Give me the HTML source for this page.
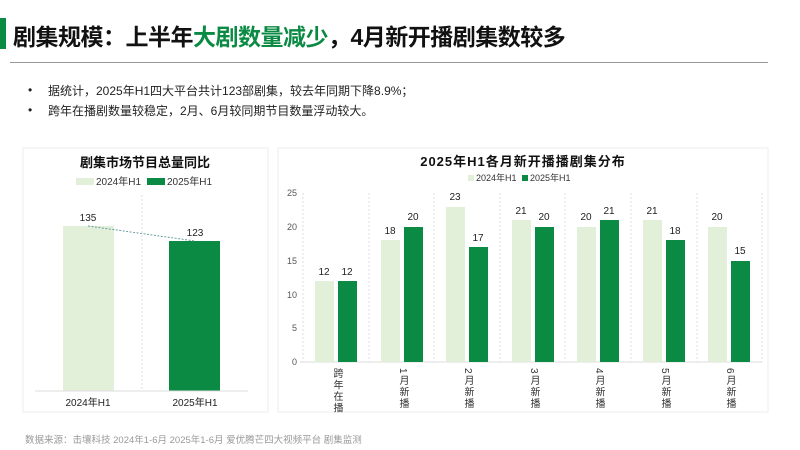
<!DOCTYPE html>
<html><head><meta charset="utf-8"><style>
body{margin:0;width:800px;height:450px;background:#fff;position:relative;overflow:hidden;font-family:"Liberation Sans","Noto Sans CJK SC",sans-serif;}
.a{position:absolute;white-space:nowrap;}
.v{position:absolute;top:368px;writing-mode:vertical-rl;font-size:10px;color:#333;line-height:12px;letter-spacing:1.5px}
</style></head><body>
<div class="a" style="left:0;top:18px;width:6px;height:31px;background:#0b8a43"></div>
<div class="a" style="left:13px;top:18px;font-size:23px;font-weight:bold;color:#111;letter-spacing:-0.5px">剧集规模：上半年<span style="color:#0b8a43">大剧数量减少</span>，4月新开播剧集数较多</div>
<div class="a" style="left:10px;top:62px;width:758px;height:1px;background:#999"></div>
<div class="a" style="left:28px;top:83px;font-size:12px;color:#222">•</div>
<div class="a" style="left:48px;top:82px;font-size:12px;color:#222">据统计，2025年H1四大平台共计123部剧集，较去年同期下降8.9%；</div>
<div class="a" style="left:28px;top:103px;font-size:12px;color:#222">•</div>
<div class="a" style="left:48px;top:102px;font-size:12px;color:#222">跨年在播剧数量较稳定，2月、6月较同期节目数量浮动较大。</div>
<div class="a" style="left:25px;top:432px;font-size:9.5px;color:#999">数据来源：击壤科技 2024年1-6月 2025年1-6月 爱优腾芒四大视频平台 剧集监测</div>
<svg class="a" style="left:0;top:0" width="800" height="450" font-family="Liberation Sans,Noto Sans CJK SC,sans-serif">
<rect x="23" y="148" width="245" height="264" fill="none" stroke="#eee"/>
<rect x="278" y="148" width="490" height="264" fill="none" stroke="#eee"/>
<text x="145" y="167" text-anchor="middle" font-size="13" font-weight="bold" fill="#111">剧集市场节目总量同比</text>
<rect x="76" y="178" width="18" height="7" fill="#e2efd9"/><text x="96" y="185" font-size="10" fill="#333">2024年H1</text>
<rect x="147" y="178" width="18" height="7" fill="#0b8a43"/><text x="167" y="185" font-size="10" fill="#333">2025年H1</text>
<line x1="142" y1="195" x2="142" y2="391" stroke="#ddd" stroke-dasharray="2,2"/>
<rect x="63" y="226" width="51" height="165" fill="#e2efd9"/>
<rect x="169" y="241" width="51" height="150" fill="#0b8a43"/>
<line x1="88" y1="226" x2="195" y2="241" stroke="#6a9ea0" stroke-dasharray="2,1.5"/>
<line x1="35" y1="391" x2="248" y2="391" stroke="#ddd"/>
<text x="88" y="221" text-anchor="middle" font-size="10" fill="#222">135</text>
<text x="195" y="236" text-anchor="middle" font-size="10" fill="#222">123</text>
<text x="88" y="406" text-anchor="middle" font-size="10" fill="#222">2024年H1</text>
<text x="195" y="406" text-anchor="middle" font-size="10" fill="#222">2025年H1</text>
<text x="523" y="166" text-anchor="middle" font-size="13" font-weight="bold" fill="#111" letter-spacing="1">2025年H1各月新开播播剧集分布</text>
<rect x="468" y="175" width="6" height="6" fill="#e2efd9"/><text x="476" y="181" font-size="9" fill="#333">2024年H1</text>
<rect x="522" y="175" width="6" height="6" fill="#0b8a43"/><text x="530" y="181" font-size="9" fill="#333">2025年H1</text>
<g font-size="9" fill="#555" text-anchor="end">
<text x="297" y="196">25</text><text x="297" y="230">20</text><text x="297" y="264">15</text><text x="297" y="298">10</text><text x="297" y="331">5</text><text x="297" y="365">0</text></g>
<g stroke="#ddd" stroke-dasharray="2,2">
<line x1="303" y1="193" x2="303" y2="362"/><line x1="369" y1="193" x2="369" y2="362"/><line x1="434" y1="193" x2="434" y2="362"/><line x1="500" y1="193" x2="500" y2="362"/><line x1="565" y1="193" x2="565" y2="362"/><line x1="631" y1="193" x2="631" y2="362"/><line x1="697" y1="193" x2="697" y2="362"/><line x1="762" y1="193" x2="762" y2="362"/></g>
<line x1="300" y1="362" x2="762" y2="362" stroke="#ddd"/>
<g font-size="10" fill="#222" text-anchor="middle">
<rect x="315" y="281" width="19" height="81" fill="#e2efd9"/><rect x="338" y="281" width="19" height="81" fill="#0b8a43"/>
<text x="324" y="275">12</text><text x="347" y="275">12</text>
<rect x="381" y="240" width="19" height="122" fill="#e2efd9"/><rect x="404" y="227" width="19" height="135" fill="#0b8a43"/>
<text x="390" y="234">18</text><text x="413" y="220">20</text>
<rect x="446" y="207" width="19" height="155" fill="#e2efd9"/><rect x="469" y="247" width="19" height="115" fill="#0b8a43"/>
<text x="455" y="200">23</text><text x="478" y="241">17</text>
<rect x="512" y="220" width="19" height="142" fill="#e2efd9"/><rect x="535" y="227" width="19" height="135" fill="#0b8a43"/>
<text x="521" y="214">21</text><text x="544" y="220">20</text>
<rect x="577" y="227" width="19" height="135" fill="#e2efd9"/><rect x="600" y="220" width="19" height="142" fill="#0b8a43"/>
<text x="586" y="220">20</text><text x="609" y="214">21</text>
<rect x="643" y="220" width="19" height="142" fill="#e2efd9"/><rect x="666" y="240" width="19" height="122" fill="#0b8a43"/>
<text x="652" y="214">21</text><text x="675" y="234">18</text>
<rect x="708" y="227" width="19" height="135" fill="#e2efd9"/><rect x="731" y="261" width="19" height="101" fill="#0b8a43"/>
<text x="717" y="220">20</text><text x="740" y="254">15</text>
</g>
</svg>
<div class="v" style="left:330px">跨年在播</div>
<div class="v" style="left:396px">1月新播</div>
<div class="v" style="left:461px">2月新播</div>
<div class="v" style="left:527px">3月新播</div>
<div class="v" style="left:592px">4月新播</div>
<div class="v" style="left:658px">5月新播</div>
<div class="v" style="left:723px">6月新播</div>
</body></html>
